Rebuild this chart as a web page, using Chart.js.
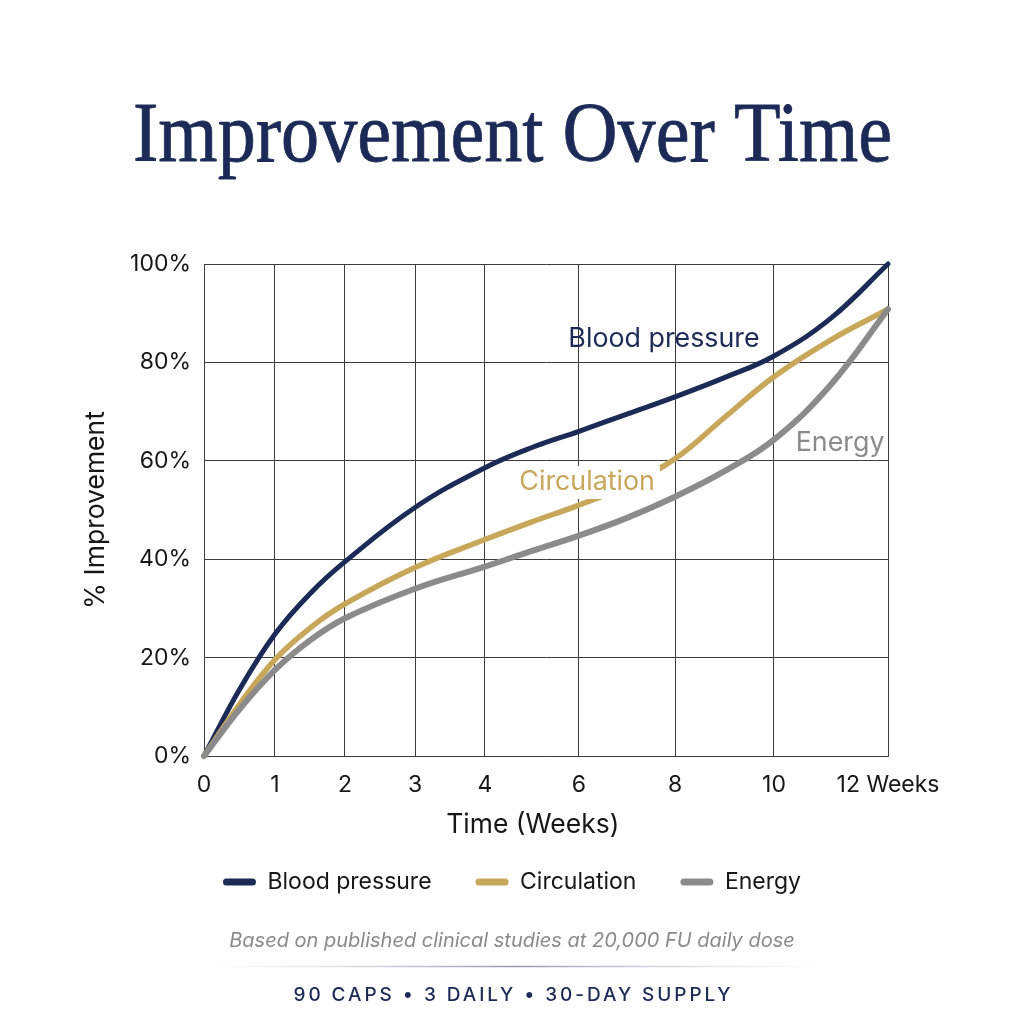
<!DOCTYPE html>
<html>
<head>
<meta charset="utf-8">
<script src="https://cdn.jsdelivr.net/npm/chart.js@4.4.0/dist/chart.umd.min.js"></script>
<style>
  html, body { margin: 0; padding: 0; background: #ffffff; }
  #wrap { width: 1024px; height: 1024px; position: relative; }
  canvas { display: block; }
</style>
</head>
<body>
<div id="wrap"><canvas id="chart" width="1024" height="1024"></canvas></div>
<script>
// ---------------- data ----------------
// axis ticks (weeks) and their labels
const weekTicks = [0, 1, 2, 3, 4, 6, 8, 10, 12];
const weekTickLabels = ['0', '1', '2', '3', '4', '6', '8', '10', '12 Weeks'];
const sampleWeeks   = [0, 0.5, 1, 1.5, 2, 3, 4, 5, 6, 7, 8, 9, 10, 11, 12];
const bloodPressure = [0, 13.5, 24.8, 33, 39.5, 50.5, 58.6, 62.7, 66, 69.5, 73, 76.9, 81.3, 89, 100];
const circulation   = [0, 10.5, 19.6, 26, 30.9, 38.3, 44, 47.6, 51, 55, 60.4, 68.8, 77.1, 84.6, 90.8];
const energy        = [0, 9.5, 17.5, 23.5, 28, 34, 38.5, 41.7, 44.8, 48.4, 52.7, 57.9, 64.3, 75.5, 90.8];
const percentTicks = [0, 20, 40, 60, 80, 100];
const seriesNames = ['Blood pressure', 'Circulation', 'Energy'];
const titleText = 'Improvement Over Time';
const xAxisTitle = 'Time (Weeks)';
const yAxisTitle = '% Improvement';
const footnoteText = 'Based on published clinical studies at 20,000 FU daily dose';
const supplyText = '90 CAPS \u2022 3 DAILY \u2022 30-DAY SUPPLY';

// ---------------- style / layout ----------------
const NAVY = '#1b2a56';
const GOLD = '#c8a65a';
const GRAY = '#8b8b8b';
const GRID = '#3c3c3c';
const TEXT = '#161616';
const SANS = 'Inter, "Noto Sans", "Liberation Sans", sans-serif';
const SERIF = '"Liberation Serif", "DejaVu Serif", serif';

// relative placement of the week gridlines across the plot width (uneven axis)
const weekAxisFractions = [0, 0.1038, 0.2061, 0.3085, 0.4108, 0.5482, 0.6886, 0.8333, 1];

// in-plot series labels (anchored in data units through the scales)
const inlineLabels = [
  { text: seriesNames[0], week: 7.77, value: 84.8, color: NAVY, knockout: false },
  { text: seriesNames[1], week: 6.17, value: 55.7, color: GOLD, knockout: true },
  { text: seriesNames[2], week: 11.16, value: 63.6, color: GRAY, knockout: false }
];

// ---------------- custom uneven week scale ----------------
class WeekScale extends Chart.LinearScale {
  getPixelForValue(value) {
    const v = +value;
    let i = 0;
    while (i < weekTicks.length - 2 && v > weekTicks[i + 1]) i++;
    const t = (v - weekTicks[i]) / (weekTicks[i + 1] - weekTicks[i]);
    const f = weekAxisFractions[i] + t * (weekAxisFractions[i + 1] - weekAxisFractions[i]);
    return this.getPixelForDecimal(f);
  }
}
WeekScale.id = 'weekScale';
WeekScale.defaults = Chart.LinearScale.defaults;
Chart.register(WeekScale);

const toPoints = arr => sampleWeeks.map((w, i) => ({ x: w, y: arr[i] }));

const decorPlugin = {
  id: 'decor',
  beforeDraw(chart) {
    const ctx = chart.ctx;
    ctx.save();
    ctx.fillStyle = '#ffffff';
    ctx.fillRect(0, 0, chart.width, chart.height);
    ctx.restore();
  },
  afterDatasetsDraw(chart) {
    const ctx = chart.ctx;
    const xs = chart.scales.x, ys = chart.scales.y;
    ctx.save();
    ctx.font = '400 26.8px ' + SANS;
    ctx.textBaseline = 'middle';
    ctx.textAlign = 'center';
    inlineLabels.forEach(l => {
      const x = xs.getPixelForValue(l.week);
      const y = ys.getPixelForValue(l.value);
      const w = ctx.measureText(l.text).width;
      if (l.knockout) {
        ctx.fillStyle = '#ffffff';
        ctx.fillRect(x - w / 2 - 5, y - 16, w + 10, 33);
      }
      ctx.fillStyle = l.color;
      ctx.fillText(l.text, x, y);
    });
    ctx.restore();
  },
  afterDraw(chart) {
    const ctx = chart.ctx;
    ctx.save();
    // title
    ctx.font = '400 84px ' + SERIF;
    const tw = ctx.measureText(titleText).width;
    const sx = 759 / tw;
    ctx.translate(512.5, 161);
    ctx.scale(sx, 1);
    ctx.textAlign = 'center';
    ctx.textBaseline = 'alphabetic';
    ctx.fillStyle = NAVY;
    ctx.fillText(titleText, 0, 0);
    ctx.strokeStyle = NAVY;
    ctx.lineWidth = 0.8;
    ctx.lineJoin = 'round';
    ctx.strokeText(titleText, 0, 0);
    ctx.restore();

    // footnote
    ctx.save();
    ctx.font = 'italic 400 20px ' + SANS;
    ctx.fillStyle = '#8a8a8a';
    ctx.textAlign = 'center';
    ctx.textBaseline = 'middle';
    ctx.fillText(footnoteText, 512, 941);
    ctx.restore();

    // separator
    ctx.save();
    const g = ctx.createLinearGradient(190, 0, 840, 0);
    g.addColorStop(0, 'rgba(200,204,214,0)');
    g.addColorStop(0.5, 'rgba(120,128,150,0.8)');
    g.addColorStop(1, 'rgba(200,204,214,0)');
    ctx.strokeStyle = g;
    ctx.lineWidth = 1.3;
    ctx.beginPath();
    ctx.moveTo(190, 966.5);
    ctx.lineTo(840, 966.5);
    ctx.stroke();
    ctx.restore();

    // supply line
    ctx.save();
    ctx.font = '500 19px ' + SANS;
    ctx.fillStyle = NAVY;
    ctx.textBaseline = 'middle';
    ctx.textAlign = 'left';
    const w0 = ctx.measureText(supplyText).width;
    const n = [...supplyText].length;
    const sp = Math.max(0, (437 - w0) / (n - 1));
    ctx.letterSpacing = sp.toFixed(2) + 'px';
    ctx.fillText(supplyText, 512 - 437 / 2, 995);
    ctx.restore();
  }
};

const chart = new Chart(document.getElementById('chart'), {
  type: 'line',
  data: {
    datasets: [
      { label: seriesNames[0], data: toPoints(bloodPressure), borderColor: NAVY, backgroundColor: NAVY,
        borderWidth: 5, order: 3 },
      { label: seriesNames[1], data: toPoints(circulation), borderColor: GOLD, backgroundColor: GOLD,
        borderWidth: 5.5, order: 2 },
      { label: seriesNames[2], data: toPoints(energy), borderColor: GRAY, backgroundColor: GRAY,
        borderWidth: 6, order: 1 }
    ]
  },
  options: {
    responsive: false,
    animation: false,
    devicePixelRatio: 1,
    events: [],
    clip: false,
    datasets: {
      line: {
        pointRadius: 0,
        fill: false,
        cubicInterpolationMode: 'default',
        tension: 0.4,
        borderCapStyle: 'round',
        borderJoinStyle: 'round',
        clip: false
      }
    },
    layout: { padding: { top: 264, left: 0, right: 0, bottom: 120.5 } },
    scales: {
      x: {
        type: 'weekScale',
        min: 0, max: 12,
        afterBuildTicks: s => { s.ticks = weekTicks.map(v => ({ value: v })); },
        afterFit: s => { s.height = 70.5; },
        grid: { color: GRID, lineWidth: 1, drawTicks: false },
        border: { display: true, color: GRID, width: 1 },
        ticks: {
          autoSkip: false, maxRotation: 0, minRotation: 0, padding: 15,
          color: TEXT, font: { family: SANS, size: 23 },
          callback: (v, i) => weekTickLabels[i]
        },
        title: { display: true, text: xAxisTitle + '\u2003', color: TEXT,
          font: { family: SANS, size: 26.5 }, padding: { top: 0, bottom: -14.4 } }
      },
      y: {
        type: 'linear',
        position: 'left',
        min: 0, max: 100,
        afterBuildTicks: s => { s.ticks = percentTicks.map(v => ({ value: v })); },
        afterFit: s => { s.width = 204; },
        grid: { color: GRID, lineWidth: 1, drawTicks: false },
        border: { display: true, color: GRID, width: 1 },
        ticks: { padding: 13, color: TEXT, font: { family: SANS, size: 23 },
          callback: v => v + '%' },
        title: { display: true, text: yAxisTitle, color: TEXT,
          font: { family: SANS, size: 26.5 }, padding: { top: 80, bottom: 0 } }
      },
      yRight: {
        type: 'linear',
        position: 'right',
        display: true,
        grid: { display: false, drawTicks: false },
        border: { display: false },
        ticks: { display: false },
        afterFit: s => { s.width = 136; }
      }
    },
    plugins: {
      tooltip: { enabled: false },
      title: { display: false },
      legend: {
        display: true,
        position: 'bottom',
        align: 'center',
        labels: {
          boxWidth: 33,
          boxHeight: 7,
          padding: 44,
          color: TEXT,
          font: { family: SANS, size: 23 },
          generateLabels: ch => ch.data.datasets.map((ds, i) => ({
            text: ds.label,
            fillStyle: ds.borderColor,
            strokeStyle: ds.borderColor,
            lineWidth: 0,
            hidden: false,
            datasetIndex: i,
            borderRadius: 3.5,
            fontColor: TEXT
          }))
        }
      }
    }
  },
  plugins: [decorPlugin]
});
</script>
</body>
</html>
